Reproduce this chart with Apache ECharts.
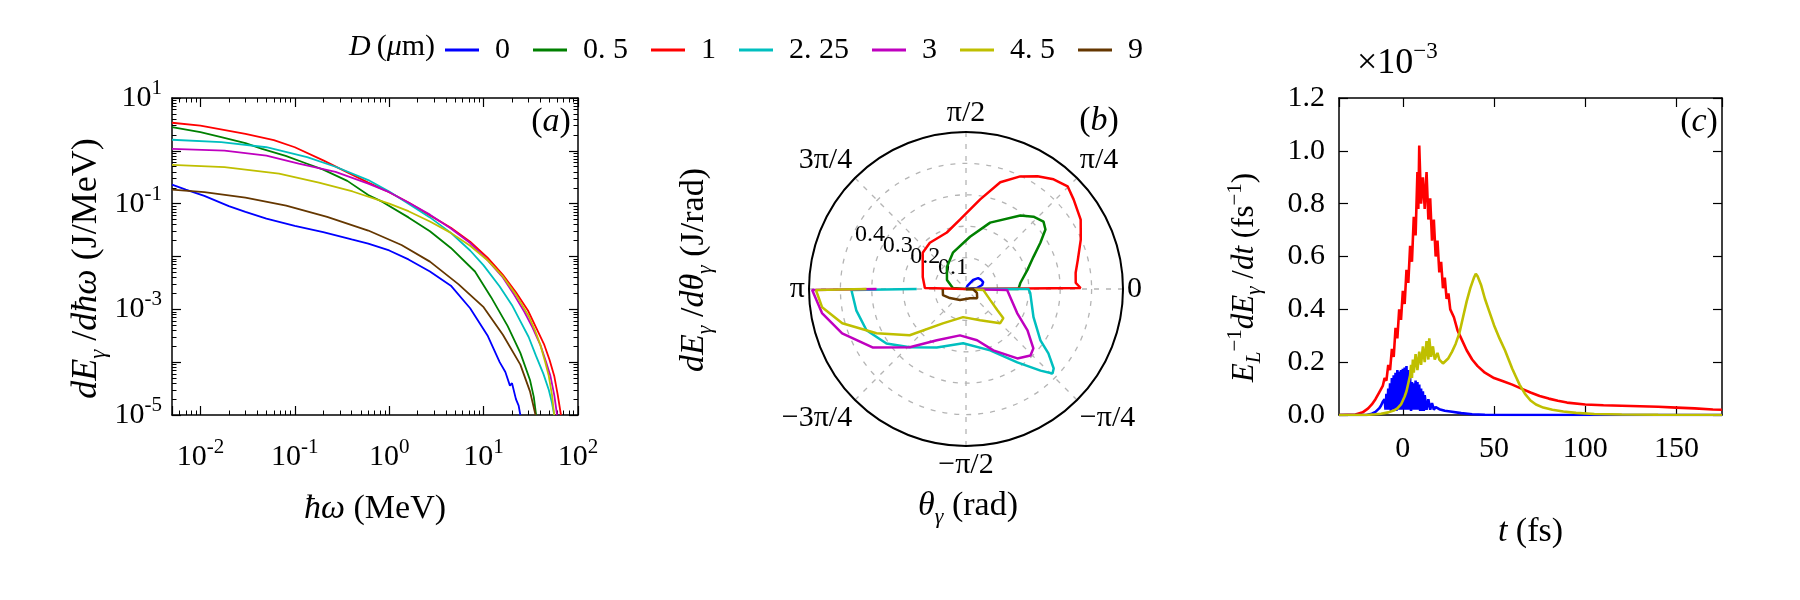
<!DOCTYPE html>
<html><head><meta charset="utf-8">
<script src="https://cdn.jsdelivr.net/npm/echarts@6.0.0/dist/echarts.min.js"></script>
<style>html,body{margin:0;padding:0;background:#fff}#c{width:1800px;height:600px}</style>
</head><body><div id="c"></div>
<script>
// ---------------- data ----------------
const seriesNames = ['0', '0.5', '1', '2.25', '3', '4.5', '9'];
const legendLabels = ['0', '0. 5', '1', '2. 25', '3', '4. 5', '9'];
const seriesColors = ['#0000ff', '#008000', '#ff0000', '#00bfbf', '#bf00bf', '#bfbf00', '#653700'];

// panel (a): [photon energy MeV, dE/dhw J/MeV]
const spec_D0 = [[0.005,0.23],[0.007,0.185],[0.011,0.14],[0.02,0.09],[0.03,0.07],[0.05,0.052],[0.1,0.038],[0.2,0.029],[0.4,0.021],[0.6,0.0175],[1,0.013],[1.6,0.0088],[2.7,0.0052],[4.5,0.0028],[7.2,1.05e-3],[11,3.2e-4],[14.8,1.0e-4],[17,6.5e-5],[19,3.6e-5],[20,4.0e-5],[22,2.0e-5],[23.5,1.5e-5],[24.5,1.0e-5]];
const spec_D05 = [[0.005,2.82],[0.01,2.25],[0.0166,1.82],[0.03,1.4],[0.045,1.09],[0.08,0.8],[0.135,0.57],[0.2,0.44],[0.36,0.27],[0.6,0.146],[0.85,0.108],[1.6,0.055],[2.7,0.03],[4.5,0.0145],[8.1,0.0052],[12,0.0017],[18,4.8e-4],[24.5,1.5e-4],[31,4.6e-5],[34,2.2e-5],[36,1e-5]];
const spec_D1 = [[0.005,3.4],[0.01,3.0],[0.03,2.1],[0.06,1.6],[0.1,1.17],[0.2,0.66],[0.3,0.46],[0.6,0.25],[1,0.165],[1.6,0.105],[2.7,0.06],[4.5,0.035],[7.2,0.019],[11,0.0095],[16,0.0045],[22,0.0021],[29.5,9.5e-4],[36,4.5e-4],[43.6,2.2e-4],[50,1.1e-4],[56,5.5e-5],[61,2.4e-5],[66,1e-5]];
const spec_D225 = [[0.005,1.62],[0.0166,1.46],[0.05,1.17],[0.135,0.76],[0.27,0.5],[0.6,0.28],[1,0.17],[1.6,0.1],[2.7,0.055],[4.5,0.028],[7.2,0.013],[10,0.0068],[14.8,0.0027],[20,0.0012],[24.5,6e-4],[30,3e-4],[36,1.3e-4],[43,6e-5],[49,3e-5],[53,1.7e-5],[56,1e-5]];
const spec_D3 = [[0.005,1.09],[0.018,1.01],[0.05,0.81],[0.11,0.57],[0.27,0.4],[0.6,0.24],[1,0.165],[1.6,0.105],[2.7,0.062],[4.5,0.034],[7.2,0.018],[11,0.0085],[16,0.004],[21,0.0019],[27,9e-4],[33,4.5e-4],[40,2.1e-4],[46,1e-4],[51,5.5e-5],[56,2.4e-5],[60,1e-5]];
const spec_D45 = [[0.005,0.54],[0.018,0.49],[0.068,0.37],[0.18,0.25],[0.41,0.17],[1,0.1],[1.6,0.072],[2.7,0.046],[4.5,0.028],[7.2,0.016],[11,0.0085],[16,0.0042],[22,0.0019],[30,7.5e-4],[35,4e-4],[40,2.1e-4],[45,1e-4],[49,5.5e-5],[53,2.4e-5],[56,1e-5]];
const spec_D9 = [[0.005,0.185],[0.011,0.165],[0.03,0.13],[0.081,0.092],[0.22,0.056],[0.6,0.031],[1.35,0.0165],[2.7,0.008],[5.4,0.003],[10,1.1e-3],[16,3.3e-4],[24.5,9e-5],[31,2.8e-5],[35.5,1e-5]];

// panel (b): [dE/dtheta J/rad, angle deg]
const polar_D0 = [[0,0],[0.035,5],[0.053,14],[0.059,22],[0.056,32],[0.052,42],[0.037,52],[0.012,65],[0,80],[0,180]];
const polar_D05 = [[0,0],[0.167,0],[0.174,6.3],[0.205,17.3],[0.238,25.5],[0.279,31.9],[0.316,36.8],[0.327,41],[0.315,47],[0.291,53.5],[0.225,70],[0.167,85.6],[0.123,109.8],[0.093,130.8],[0.067,154.7],[0.042,176],[0,180]];
const polar_D1 = [[0,0],[0.365,0.5],[0.35,3.2],[0.353,8.4],[0.368,14.6],[0.398,23.3],[0.427,31.2],[0.446,39.8],[0.46,45.3],[0.447,51.4],[0.425,57.6],[0.398,64.3],[0.357,72.2],[0.289,81],[0.222,95],[0.19,108.7],[0.187,128],[0.18,140],[0.143,164.4],[0.131,178.6],[0,180]];
const polar_D225 = [[0.157,180],[0.365,-179.5],[0.356,-169],[0.343,-157.5],[0.307,-145.6],[0.258,-134],[0.208,-116.6],[0.173,-93],[0.21,-68.5],[0.285,-55],[0.352,-47.6],[0.385,-44.3],[0.377,-42.2],[0.333,-38],[0.288,-34.6],[0.233,-22.7],[0.205,-3.6],[0.199,0],[0,0]];
const polar_D3 = [[0.285,180],[0.49,-179.6],[0.465,-170.5],[0.419,-160.3],[0.351,-148],[0.258,-134],[0.188,-119.6],[0.149,-97.4],[0.167,-77.8],[0.214,-66],[0.275,-53.5],[0.295,-45.9],[0.286,-41.4],[0.236,-33.9],[0.18,-25.2],[0.131,-1.4],[0.131,0],[0,0]];
const polar_D45 = [[0.317,180],[0.478,-179.6],[0.462,-172.8],[0.409,-164.5],[0.318,-153.7],[0.232,-140.6],[0.132,-124],[0.09,-96],[0.109,-65.7],[0.154,-45],[0.151,-38],[0.12,-34],[0.085,-24.6],[0.055,-3],[0,0]];
const polar_D9 = [[0.074,180],[0.074,-177.5],[0.076,-165],[0.059,-150.6],[0.04,-118.6],[0.032,-66],[0.046,-39.3],[0.037,-20],[0.022,0],[0,0]];

// panel (c): [t fs, E_L^-1 dE/dt in 1e-3 fs^-1]
const rate_D1 = [[-35,0],[-26,0.002],[-22,0.01],[-19,0.025],[-17,0.04],[-15,0.06],[-13,0.085],[-11,0.11],[-10,0.14],[-9,0.13],[-8,0.19],[-7,0.17],[-6,0.25],[-5,0.22],[-4,0.33],[-3,0.29],[-2,0.4],[-1,0.36],[0,0.47],[1,0.42],[2,0.55],[3,0.5],[4,0.64],[5,0.58],[6,0.75],[7,0.68],[8,0.92],[8.5,0.78],[9,1.02],[10,0.8],[11,0.9],[12,0.78],[13,0.92],[14,0.74],[15,0.82],[16,0.66],[17,0.74],[18,0.6],[19,0.66],[20,0.54],[21,0.58],[22,0.48],[23,0.52],[24,0.44],[25,0.46],[26,0.4],[28,0.37],[30,0.32],[32,0.29],[35,0.245],[38,0.21],[41,0.185],[45,0.16],[50,0.14],[55,0.128],[60,0.115],[65,0.1],[70,0.085],[75,0.072],[80,0.062],[85,0.054],[90,0.047],[100,0.04],[110,0.037],[120,0.035],[130,0.033],[140,0.031],[150,0.028],[160,0.025],[170,0.021],[175,0.02]];
const rate_D0 = [[-35,0],[-20,0],[-17,0.005],[-15,0.012],[-13,0.025],[-12,0.035],[-11,0.05],[-10,0.06],[-9.5,0.02],[-9,0.08],[-8.5,0.02],[-8,0.1],[-7.5,0.02],[-7,0.12],[-6.5,0.015],[-6,0.14],[-5.5,0.02],[-5,0.15],[-4.5,0.02],[-4,0.16],[-3.5,0.015],[-3,0.17],[-2.5,0.02],[-2,0.165],[-1.5,0.02],[-1,0.17],[-0.5,0.02],[0,0.175],[0.5,0.02],[1,0.18],[1.5,0.02],[2,0.185],[2.5,0.02],[3,0.17],[3.5,0.02],[4,0.14],[4.5,0.015],[5,0.125],[5.5,0.02],[6,0.12],[6.5,0.02],[7,0.13],[7.5,0.02],[8,0.125],[8.5,0.02],[9,0.115],[9.5,0.015],[10,0.1],[10.5,0.015],[11,0.09],[11.5,0.015],[12,0.075],[13,0.02],[14,0.06],[15,0.02],[16,0.045],[17,0.02],[18,0.03],[20,0.022],[23,0.016],[27,0.012],[32,0.007],[38,0.003],[45,0.001],[60,0],[175,0]];
const rate_D45 = [[-35,0],[-20,0],[-15,0.003],[-12,0.005],[-8,0.01],[-5,0.017],[-3,0.025],[-1,0.04],[1,0.07],[2,0.09],[3,0.12],[4,0.15],[4.5,0.19],[5,0.14],[5.5,0.21],[6,0.16],[7,0.23],[8,0.17],[9,0.24],[10,0.19],[11,0.26],[12,0.2],[13,0.28],[14,0.21],[14.5,0.29],[15.5,0.22],[16.5,0.26],[17.5,0.21],[19,0.235],[20,0.21],[22,0.195],[23,0.2],[25,0.215],[27,0.24],[29,0.27],[31,0.31],[33,0.37],[35,0.43],[37,0.48],[39,0.52],[40,0.535],[41,0.525],[43,0.49],[45,0.44],[47,0.4],[50,0.34],[53,0.29],[56,0.245],[58,0.21],[60,0.175],[62,0.145],[64,0.115],[67,0.08],[70,0.055],[73,0.04],[77,0.028],[82,0.02],[88,0.013],[95,0.008],[105,0.004],[120,0.002],[140,0.001],[175,0]];

const angleTickLabels = {'-180':'π','-135':'−3π/4','-90':'−π/2','-45':'−π/4','0':'0','45':'π/4','90':'π/2','135':'3π/4','180':''};

// ---------------- chart ----------------
const FONT = 'Liberation Serif';
const TICK_FS = 30;
const chart = echarts.init(document.getElementById('c'), null, {width:1800, height:600});

function isPow10(v){ const e = Math.round(Math.log10(v)); return Math.abs(v / Math.pow(10, e) - 1) < 1e-6 ? e : null; }
function pow10Label(v){ const e = isPow10(v); return e === null ? '' : '{b|10}{s|' + e + '}'; }
function pow10OddLabel(v){ const e = isPow10(v); return (e === null || Math.abs(e) % 2 !== 1) ? '' : '{b|10}{s|' + e + '}'; }
const powRich = {
  b:{fontFamily:FONT, fontSize:TICK_FS, color:'#000', lineHeight:40},
  s:{fontFamily:FONT, fontSize:21, color:'#000', verticalAlign:'top', lineHeight:24}
};
function makeRich(fs, small){
  return {
    it:{fontFamily:FONT, fontStyle:'italic', fontSize:fs, color:'#000', lineHeight:Math.round(fs*1.3)},
    n:{fontFamily:FONT, fontSize:fs, color:'#000', lineHeight:Math.round(fs*1.3)},
    sub:{fontFamily:FONT, fontStyle:'italic', fontSize:small, color:'#000', verticalAlign:'bottom', lineHeight:Math.round(small*1.2)},
    sup:{fontFamily:FONT, fontSize:small, color:'#000', verticalAlign:'top', lineHeight:Math.round(small*1.2)}
  };
}
const rich34 = makeRich(34, 22);
const rich36 = makeRich(36, 23);
const rich31 = makeRich(31, 21);
const rich30 = makeRich(30, 21);
const axLine = {onZero:false, lineStyle:{color:'#000', width:1.5}};
const tick = {inside:true, length:9, lineStyle:{color:'#000', width:1.2}};
const minor = {show:true, splitNumber:9, length:4.5, lineStyle:{color:'#000', width:1}};
const tickText = {fontFamily:FONT, fontSize:TICK_FS, color:'#000'};

const gridA = {left:172, top:98, width:406, height:317};
const gridC = {left:1339, top:98, width:383, height:317};

const specData = [spec_D0, spec_D05, spec_D1, spec_D225, spec_D3, spec_D45, spec_D9];
const polarData = [polar_D0, polar_D05, polar_D1, polar_D225, polar_D3, polar_D45, polar_D9];
const rateData = {0: rate_D0, 2: rate_D1, 5: rate_D45};

const series = [];
specData.forEach((d, i) => series.push({
  name: seriesNames[i], type:'line', xAxisIndex:0, yAxisIndex:0, data:d,
  showSymbol:false, symbol:'none', color:seriesColors[i], lineStyle:{width:1.8}, animation:false, z:2+i
}));
polarData.forEach((d, i) => series.push({
  name: seriesNames[i], type:'line', coordinateSystem:'polar', polarIndex:0, data:d,
  showSymbol:false, symbol:'none', color:seriesColors[i], lineStyle:{width:2.5}, animation:false, z:2+i
}));
[2, 0, 5].forEach((i, k) => series.push({
  name: seriesNames[i], type:'line', xAxisIndex:2, yAxisIndex:2, data:rateData[i],
  showSymbol:false, symbol:'none', color:seriesColors[i], lineStyle:{width:2.6}, animation:false, z:2+k
}));

const option = {
  animation:false,
  backgroundColor:'#fff',
  legend:{
    data:seriesNames, left:440, top:30, icon:'rect', itemWidth:34, itemHeight:3, itemGap:23,
    selectedMode:false,
    formatter:(n) => legendLabels[seriesNames.indexOf(n)],
    textStyle:{fontFamily:FONT, fontSize:TICK_FS, color:'#000', padding:[0,0,0,11]}
  },
  grid:[gridA, gridC],
  xAxis:[
    {gridIndex:0, type:'log', min:0.005, max:100, position:'bottom', axisLine:axLine, axisTick:tick, minorTick:minor,
     splitLine:{show:false}, minorSplitLine:{show:false},
     axisLabel:{formatter:pow10Label, rich:powRich, margin:22},
     name:'{it|ħω}{n| (MeV)}', nameLocation:'middle', nameGap:72, nameTextStyle:{rich:rich34}},
    {gridIndex:0, type:'log', min:0.005, max:100, position:'top', axisLine:axLine, axisTick:tick, minorTick:minor,
     splitLine:{show:false}, axisLabel:{show:false}},
    {gridIndex:1, type:'value', min:-35, max:175, position:'bottom', axisLine:axLine, axisTick:tick,
     splitLine:{show:false},
     axisLabel:Object.assign({formatter:(v) => (v % 50 === 0 ? String(v) : ''), margin:19, showMinLabel:false, showMaxLabel:false}, tickText),
     name:'{it|t}{n| (fs)}', nameLocation:'middle', nameGap:95, nameTextStyle:{rich:rich34}},
    {gridIndex:1, type:'value', min:-35, max:175, position:'top', axisLine:axLine, axisTick:tick,
     splitLine:{show:false}, axisLabel:{show:false}}
  ],
  yAxis:[
    {gridIndex:0, type:'log', min:1e-5, max:10, interval:1, position:'left', axisLine:axLine, axisTick:tick, minorTick:minor,
     splitLine:{show:false}, minorSplitLine:{show:false},
     axisLabel:{formatter:pow10OddLabel, rich:powRich, margin:10},
     name:'{it|dE}{sub|γ}{n| /}{it|dħω}{n| (J/MeV)}', nameLocation:'middle', nameRotate:90, nameGap:62,
     nameTextStyle:{rich:rich36, padding:[0,24,0,0]}},
    {gridIndex:0, type:'log', min:1e-5, max:10, interval:1, position:'right', axisLine:axLine, axisTick:tick, minorTick:minor,
     splitLine:{show:false}, axisLabel:{show:false}},
    {gridIndex:1, type:'value', min:0, max:1.2, interval:0.2, position:'left', axisLine:axLine, axisTick:tick,
     splitLine:{show:false},
     axisLabel:Object.assign({formatter:(v) => v.toFixed(1), margin:14}, tickText),
     name:'{it|E}{sub|L}{sup|−1}{it|dE}{sub|γ}{n| /}{it|dt}{n| (fs}{sup|−1}{n|)}', nameLocation:'middle', nameRotate:90, nameGap:74,
     nameTextStyle:{rich:rich31, padding:[0,42,0,0]}},
    {gridIndex:1, type:'value', min:0, max:1.2, interval:0.2, position:'right', axisLine:axLine, axisTick:tick,
     splitLine:{show:false}, axisLabel:{show:false}}
  ],
  polar:[
    {center:[966, 289], radius:157},
    {center:[997, 275], radius:148.5}
  ],
  angleAxis:[
    {polarIndex:0, type:'value', min:-180, max:180, interval:45, startAngle:180, clockwise:false,
     axisLine:{lineStyle:{color:'#000', width:2}}, axisTick:{show:false},
     splitLine:{show:true, lineStyle:{color:'#b4b4b4', width:1.3, type:[5,7]}},
     axisLabel:Object.assign({formatter:(v) => angleTickLabels[String(Math.round(v))] || '', margin:4}, tickText)},
    {polarIndex:1, type:'value', min:0, max:360, startAngle:158.5, show:false}
  ],
  radiusAxis:[
    {polarIndex:0, type:'value', min:0, max:0.5, interval:0.1,
     axisLine:{show:false}, axisTick:{show:false}, axisLabel:{show:false},
     splitLine:{show:true, lineStyle:{color:'#b4b4b4', width:1.3, type:[5,7]}}},
    {polarIndex:1, type:'value', min:0, max:0.5, interval:0.1,
     axisLine:{show:false}, axisTick:{show:false}, splitLine:{show:false},
     axisLabel:{formatter:(v) => (v > 0.05 && v < 0.45 ? v.toFixed(1) : ''), fontFamily:FONT, fontSize:24, color:'#000', margin:4}}
  ],
  graphic:[
    {type:'text', x:349, y:47, style:{text:'{it|D}{n|\u2009(}{it|μ}{n|m)}', rich:rich30, align:'left', verticalAlign:'middle'}},
    {type:'text', x:551, y:122, style:{text:'{n|(}{it|a}{n|)}', rich:rich34, align:'center', verticalAlign:'middle'}},
    {type:'text', x:1099, y:121, style:{text:'{n|(}{it|b}{n|)}', rich:rich34, align:'center', verticalAlign:'middle'}},
    {type:'text', x:1699, y:122, style:{text:'{n|(}{it|c}{n|)}', rich:rich34, align:'center', verticalAlign:'middle'}},
    {type:'text', x:1357, y:64, style:{text:'{n|×10}{sup|−3}', rich:rich36, align:'left', verticalAlign:'middle'}},
    {type:'text', x:694, y:270, rotation:Math.PI/2, style:{text:'{it|dE}{sub|γ}{n| /}{it|dθ}{sub|γ}{n| (J/rad)}', rich:rich34, align:'center', verticalAlign:'middle'}},
    {type:'text', x:968, y:506, style:{text:'{it|θ}{sub|γ}{n| (rad)}', rich:rich34, align:'center', verticalAlign:'middle'}}
  ],
  series:series
};
chart.setOption(option);
</script>
</body></html>
